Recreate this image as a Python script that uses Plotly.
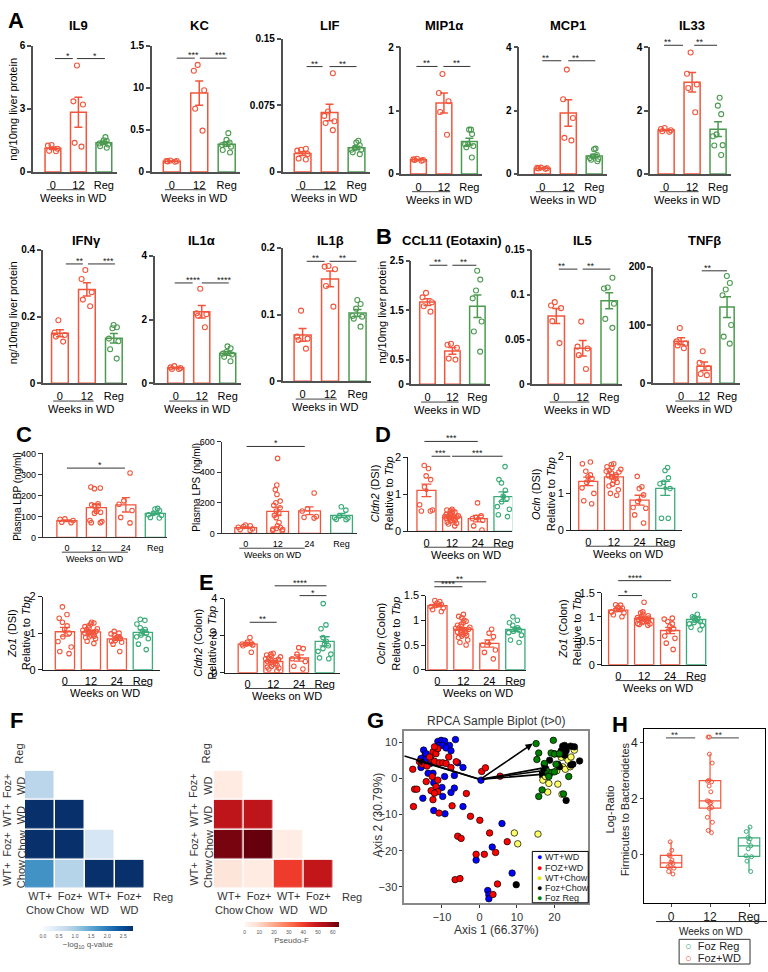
import numpy as np
import plotly.graph_objects as go
from plotly.colors import sequential

W, H = 768, 972
FONT = "Liberation Sans"
RED = "#F2553B"
GREEN_A = "#4C9A50"
GREEN = "#3AAB78"

## Data

wk3 = ["0", "12", "Reg"]
wk4 = ["0", "12", "24", "Reg"]

# A / B : ng per 10 mg liver protein, groups 0 / 12 / Reg
il9 = [[1.28, 1.25, 1.1, 1.0, 0.98], [5.05, 3.35, 3.2, 1.38, 1.2],
       [1.65, 1.5, 1.48, 1.4, 1.35, 1.3, 1.22, 1.15]]
kc = [[0.135, 0.13, 0.13, 0.125, 0.12], [1.27, 1.2, 0.97, 0.75, 0.49],
      [0.46, 0.38, 0.35, 0.33, 0.32, 0.30, 0.26, 0.23]]
lif = [[0.026, 0.025, 0.024, 0.02, 0.015, 0.014], [0.111, 0.068, 0.063, 0.057, 0.055, 0.047],
       [0.035, 0.033, 0.03, 0.027, 0.025, 0.025, 0.022, 0.02]]
mip1a = [[0.24, 0.23, 0.22, 0.22, 0.21], [1.58, 1.28, 1.15, 0.98, 0.62],
         [0.70, 0.70, 0.63, 0.47, 0.47, 0.44, 0.42, 0.26]]
mcp1 = [[0.2, 0.19, 0.18, 0.17, 0.16], [3.3, 2.36, 1.77, 1.14, 1.06],
        [0.8, 0.78, 0.6, 0.55, 0.5, 0.47, 0.45, 0.4]]
il33 = [[1.45, 1.42, 1.38, 1.35, 1.33], [3.84, 3.17, 2.83, 2.72, 1.95],
        [2.41, 2.16, 1.89, 1.25, 1.19, 0.91, 0.9, 0.6]]
ifng = [[0.189, 0.152, 0.145, 0.14, 0.125], [0.34, 0.313, 0.273, 0.251, 0.231],
        [0.175, 0.168, 0.165, 0.134, 0.126, 0.102, 0.074]]
il1a = [[0.54, 0.5, 0.48, 0.45, 0.45], [2.97, 2.2, 2.17, 2.12, 1.76],
        [1.16, 1.1, 0.98, 0.93, 0.9, 0.83, 0.69]]
il1b = [[0.106, 0.067, 0.064, 0.062, 0.049], [0.173, 0.172, 0.168, 0.143, 0.112],
        [0.122, 0.116, 0.109, 0.098, 0.097, 0.094, 0.082]]
ccl11 = [[1.85, 1.76, 1.66, 1.58, 1.47], [0.82, 0.8, 0.74, 0.52, 0.5],
         [2.30, 2.12, 1.90, 1.74, 1.27, 1.07, 0.66]]
il5 = [[0.0917, 0.088, 0.085, 0.0705, 0.046], [0.07, 0.042, 0.04, 0.0325, 0.017],
       [0.119, 0.108, 0.107, 0.09, 0.073, 0.063]]
tnfb = [[95, 72, 68, 65, 60], [55, 35, 26, 16, 14], [184, 172, 161, 151, 100, 80, 68]]

# C : plasma LBP / LPS (ng/ml), groups 0 / 12 / 24 / Reg
lbp = [[88, 86, 80, 72, 70],
       [240, 235, 232, 160, 155, 150, 150, 125, 120, 115, 80, 75, 70, 70],
       [307, 174, 158, 128, 95, 69],
       [138, 135, 128, 115, 108, 105, 92, 95]]
lps = [[55, 50, 45, 40, 30, 25, 20],
       [490, 316, 286, 254, 211, 200, 183, 168, 146, 135, 118, 103, 71, 50, 39, 32, 28, 17, 20, 25],
       [264, 161, 146, 110, 105, 100],
       [174, 152, 114, 103, 100, 92, 90]]

# D : distal small intestine, relative to Tbp
cldn2_dsi = [[1.78, 1.7, 1.5, 1.4, 1.2, 0.72, 0.58, 0.55, 0.55],
             [0.6, 0.58, 0.56, 0.55, 0.52, 0.5, 0.48, 0.46, 0.44, 0.42, 0.41, 0.4, 0.39, 0.38,
              0.36, 0.35, 0.34, 0.32, 0.3, 0.3, 0.28, 0.25, 0.22, 0.2, 0.15],
             [0.77, 0.42, 0.38, 0.35, 0.3, 0.15, 0.04],
             [1.75, 1.40, 1.31, 1.11, 0.95, 0.89, 0.80, 0.67, 0.60, 0.45, 0.40]]
ocln_dsi = [[1.85, 1.8, 1.6, 1.5, 1.45, 1.4, 1.3, 1.15, 1.0, 0.8, 0.72],
            [1.8, 1.78, 1.72, 1.7, 1.65, 1.62, 1.6, 1.58, 1.55, 1.5, 1.48, 1.45, 1.4, 1.35,
             1.3, 1.25, 1.2, 1.1, 1.0, 0.95],
            [1.46, 1.18, 1.13, 0.96, 0.78, 0.62, 0.6, 0.42, 0.2],
            [1.70, 1.62, 1.42, 1.30, 1.26, 1.13, 0.33, 0.33]]
zo1_dsi = [[1.72, 1.51, 1.41, 1.3, 1.2, 1.1, 1.0, 0.9, 0.77, 0.62, 0.5, 0.44],
           [1.3, 1.28, 1.25, 1.2, 1.18, 1.15, 1.12, 1.1, 1.08, 1.05, 1.05, 1.03, 1.0, 1.0,
            0.98, 0.95, 0.92, 0.9, 0.88, 0.85, 0.78, 0.72],
           [1.05, 1.0, 0.98, 0.95, 0.9, 0.88, 0.85, 0.8, 0.78, 0.75, 0.7, 0.5],
           [1.38, 1.35, 1.25, 1.15, 1.1, 1.05, 1.0, 0.95, 0.9, 0.85, 0.7, 0.55]]

# E : colon, relative to Tbp
cldn2_col = [[1.9, 1.65, 1.6, 1.55, 1.55, 1.5, 1.45, 1.1],
             [1.05, 1.0, 0.95, 0.9, 0.85, 0.8, 0.75, 0.72, 0.7, 0.65, 0.6, 0.55, 0.5, 0.45,
              0.4, 0.35, 0.3, 0.25, 0.2, 0.1],
             [1.35, 1.3, 1.0, 0.75, 0.6, 0.35, 0.2],
             [3.73, 2.58, 2.37, 1.9, 1.7, 1.55, 1.45, 1.3, 1.15, 1.0, 0.8, 0.75]]
ocln_col = [[1.4, 1.38, 1.35, 1.32, 1.3, 1.28, 1.25, 1.22, 1.18],
            [1.12, 1.08, 1.05, 1.0, 0.98, 0.95, 0.92, 0.9, 0.88, 0.86, 0.85, 0.84, 0.82, 0.8,
             0.78, 0.76, 0.74, 0.72, 0.7, 0.68, 0.65, 0.6, 0.55, 0.5, 0.75],
            [0.82, 0.74, 0.67, 0.55, 0.5, 0.4, 0.35, 0.22],
            [1.07, 1.0, 0.95, 0.9, 0.85, 0.82, 0.8, 0.78, 0.75, 0.7, 0.6, 0.55]]
zo1_col = [[1.25, 1.24, 1.2, 1.18, 1.15, 1.1, 1.08, 1.04, 1.0],
           [1.3, 1.1, 1.08, 1.05, 1.02, 1.0, 0.98, 0.97, 0.96, 0.95, 0.94, 0.93, 0.92, 0.9,
            0.9, 0.88, 0.86, 0.85, 0.84, 0.82],
           [0.97, 0.95, 0.9, 0.85, 0.8, 0.75, 0.7, 0.6, 0.55, 0.45, 0.32],
           [1.44, 1.05, 1.0, 0.98, 0.95, 0.92, 0.9, 0.88, 0.85, 0.82, 0.78, 0.73]]

# F : pairwise heatmaps (rows bottom -> top)
heat_groups = ["WT+<br>Chow", "Foz+<br>Chow", "WT+<br>WD", "Foz+<br>WD", "Reg"]
heat_q = [[1.75, 0.85, 2.8, 2.8, None],
          [2.8, 2.8, 0.45, None, None],
          [2.8, 2.8, None, None, None],
          [0.8, None, None, None, None],
          [None, None, None, None, None]]
heat_f = [[6, 4, 40, 50, None],
          [62, 64, 3, None, None],
          [51, 51, None, None, None],
          [4, None, None, None, None],
          [None, None, None, None, None]]

# G : RPCA biplot
wtwd_x = [-14.9, -14.5, -15.6, -14.2, -13.1, -14.7, -15.6, -11.1, -10.2, -9.3, -10.8, -9.8, -8.0, -6.4,
          -8.9, -7.6, -4.4, -5.8, -6.7, -12.4, -12.2, -10.0, -15.1, -9.8, -7.6, -6.7, -4.4, -12.2,
          -9.2, 6.0, 3.4, -0.9, 2.2, 2.5, 2.5, 8.7, -14.2, -13.7, -9.3, 0.4]
wtwd_y = [7.8, 6.4, 5.5, 5.5, 4.1, 3.7, 3.0, 10.2, 10.5, 10.3, 9.1, 9.1, 9.1, 10.7, 8.4, 7.6, 3.0, 4.3,
          0.8, 1.4, -1.2, -2.5, -5.5, -5.0, -3.9, -2.7, -7.8, -8.9, -9.8, -12.5, -19.0, -22.6, -31.0,
          -32.2, -33.3, -26.2, 6.8, 1.4, 0.5, -0.5]
fozwd_x = [-17.8, -17.3, -16.7, -17.6, -16.0, -15.3, -14.0, -12.9, -12.4, -11.6, -12.0, -10.7, -9.8,
           -8.9, -8.2, -7.6, -6.2, -11.1, -12.0, -13.3, -12.6, -14.2, -11.1, -11.6, -12.9, -11.1,
           -12.0, -12.4, -7.3, -3.5, -2.4, 0.1, 2.7, -6.5, -5.2, -0.9, 1.3, 7.4, 4.3, 4.8, 3.6, 0.6,
           1.6, 5.5, -10.8, -5.8, -4.9]
fozwd_y = [2.5, -3.0, -3.0, -7.8, 4.6, 3.9, 3.4, 5.3, 7.3, 6.8, 4.7, 4.3, 4.3, 4.1, 5.9, 3.0, 4.6, 8.2,
           8.7, 5.9, 0.5, -0.9, -0.5, -2.3, -3.4, -3.7, -4.1, -5.9, -7.6, -4.2, -10.5, -11.6, -15.1,
           -28.0, -27.7, -21.0, -21.0, -17.5, -20.5, -29.2, -32.1, 1.9, 2.9, 0.6, -9.6, -16.0, -16.6]
wtchow_x = [9.3, 10.2, 15.6, 16.9, 18.2, 18.5, 22.0, 22.7, 21.8, 23.6, 24.4, 25.3, 22.2, 22.9, 24.2,
            20.6, 17.6, 21.3, 20.9]
wtchow_y = [-15.1, -18.1, -15.4, -0.5, -3.8, -1.4, -4.4, 5.9, 5.8, 5.0, 5.9, 7.8, 3.2, 2.5, 3.2, 2.1,
            0.5, 6.7, -1.6]
fozchow_x = [9.8, 18.7, 20.0, 21.8, 22.2, 22.7, 22.9, 23.1, 22.7, 20.9, 21.3, 24.4, 24.9, 26.7, 23.1,
             24.3, 25.3]
fozchow_y = [-29.4, 5.0, 6.8, 7.6, 8.9, 9.1, 8.2, 7.6, 6.4, 3.9, 3.2, 3.7, 3.9, 4.8, -6.1, 8.9, 8.7]
fozreg_x = [15.1, 15.8, 15.3, 17.3, 15.8, 18.0, 19.7, 19.1, 20.0, 21.3, 17.3, 19.1, 20.0, 20.4, 17.8,
            16.7, 22.4, 18.5, 23.8]
fozreg_y = [9.6, 7.0, 5.2, 3.8, -5.0, 1.4, 10.5, 7.0, 6.7, 6.8, 4.1, 1.6, 1.8, 3.9, 2.3, -3.2, -4.3,
            0.5, 0.5]
arrow_x = [-20.0, -16.9, 14.2, 18.7, 18.2, 17.8]
arrow_y = [6.2, 5.0, 9.6, 3.2, 2.3, 1.2]
arrow_origin = (0.2, -0.3)

# H : log-ratio Firmicutes / Bacteroidetes
h_0 = [0.45, 0.15, -0.02, -0.05, -0.2, -0.28, -0.32, -0.38, -0.44, -0.49, -0.61, -0.7]
h_12 = [4.2, 4.2, 3.59, 3.27, 2.65, 2.62, 2.6, 2.45, 2.24, 1.92, 1.9, 1.85, 1.82, 1.68, 1.65, 1.33,
        1.15, 0.86, 0.78]
h_reg = [0.98, 0.82, 0.6, 0.56, 0.45, 0.31, 0.2, -0.05, -0.08, -0.24, -0.61]

## Helpers

fig = go.Figure()
annots, shapes = [], []
n_ax = [0]


def add_axes(L, R, T, B, xr, yr, xaxis=None, yaxis=None):
    n_ax[0] += 1
    s = "" if n_ax[0] == 1 else str(n_ax[0])
    xa = dict(domain=[L / W, R / W], range=xr, anchor="y" + s, showgrid=False, zeroline=False)
    ya = dict(domain=[1 - B / H, 1 - T / H], range=yr, anchor="x" + s, showgrid=False, zeroline=False)
    xa.update(xaxis or {})
    ya.update(yaxis or {})
    fig.update_layout(**{"xaxis" + s: xa, "yaxis" + s: ya})
    return "x" + s, "y" + s


def mapper(L, R, T, B, xr, yr):
    def f(xv, yv):
        xp = L + (xv - xr[0]) / (xr[1] - xr[0]) * (R - L)
        yp = B - (yv - yr[0]) / (yr[1] - yr[0]) * (B - T)
        return xp / W, 1 - yp / H
    return f


def text(x, y, s, size=11, angle=0, color="black", xa="center", ya="middle"):
    annots.append(dict(x=x / W, y=1 - y / H, xref="paper", yref="paper", text=s, showarrow=False,
                       textangle=angle, xanchor=xa, yanchor=ya,
                       font=dict(size=size, color=color, family=FONT)))


def pline(x0, y0, x1, y1, color="#333", width=1):
    shapes.append(dict(type="line", xref="paper", yref="paper", x0=x0, y0=y0, x1=x1, y1=y1,
                       line=dict(color=color, width=width)))


STYLES = {
    "A": dict(axc="#505050", alw=1.5, xtl=2, xfs=11, yfs=10, yw="bold", bw=0.62, ms=5, bl=1.5,
              cap=4, jit=0.75, dot=False, ul=18, wt=26, wfs=11),
    "C": dict(axc="#333333", alw=1.2, xtl=2, xfs=9, yfs=9, yw="normal", bw=0.68, ms=4.5, bl=1.3,
              cap=4, jit=0.8, dot=False, ul=15, wt=22, wfs=9),
    "D": dict(axc="#222222", alw=1.3, xtl=1, xfs=11, yfs=11, yw="normal", bw=0.74, ms=4.5, bl=1.3,
              cap=5, jit=0.85, dot=True, ul=16, wt=24, wfs=11),
}


def bar_panel(groups, cats, colors, L, c0, s, T, B, ymax, ticks, labels, sigs=(), R=None,
              style="A", title=None, title_y=None, span=(-0.25, 1.25), wk_x=0.8,
              wk="Weeks in WD", ylab=None):
    st = STYLES[style]
    R = c0 + (len(cats) - 1) * s + 13 if R is None else R
    xr = [(L - c0) / s, (R - c0) / s]
    yr = [0, ymax]
    xa, ya = add_axes(
        L, R, T, B, xr, yr,
        dict(showline=True, linecolor=st["axc"], linewidth=st["alw"], tickvals=list(range(len(cats))),
             ticktext=cats, ticks="outside", ticklen=st["xtl"], tickcolor="rgba(0,0,0,0)",
             tickfont=dict(family=FONT, size=st["xfs"], color="black")),
        dict(showline=True, linecolor=st["axc"], linewidth=st["alw"], tickvals=ticks, ticktext=labels,
             ticks="outside", ticklen=4, tickwidth=st["alw"], tickcolor=st["axc"],
             tickfont=dict(family=FONT, size=st["yfs"], color="black", weight=st["yw"])))
    for i, (pts, col) in enumerate(zip(groups, colors)):
        arr = np.array(pts, dtype=float)
        m = arr.mean()
        se = arr.std(ddof=1) / np.sqrt(len(arr))
        fig.add_trace(go.Bar(x=[i], y=[m], width=st["bw"], xaxis=xa, yaxis=ya, hoverinfo="skip",
                             marker=dict(color="white", line=dict(color=col, width=st["bl"])),
                             error_y=dict(type="data", array=[se], color=col, thickness=st["bl"],
                                          width=st["cap"])))
        fig.add_trace(go.Box(x=[i] * len(arr), y=arr, width=st["bw"], boxpoints="all", jitter=st["jit"],
                             pointpos=0, fillcolor="rgba(0,0,0,0)", line=dict(width=0, color=col),
                             whiskerwidth=0, hoverinfo="skip", xaxis=xa, yaxis=ya,
                             marker=dict(symbol="circle-open", size=st["ms"], color=col,
                                         line=dict(width=1.1))))
        if st["dot"]:
            fig.add_trace(go.Scatter(x=[i], y=[m], mode="markers", xaxis=xa, yaxis=ya, hoverinfo="skip",
                                     marker=dict(size=4, color=col)))
    f = mapper(L, R, T, B, xr, yr)
    for x0, x1, yv, t in sigs:
        a, b = f(x0, yv)
        c, _ = f(x1, yv)
        pline(a, b, c, b, color="#333", width=1)
        annots.append(dict(x=(a + c) / 2, y=b, xref="paper", yref="paper", text=t, showarrow=False,
                           yanchor="bottom", yshift=-4, font=dict(size=9, family=FONT, color="#222")))
    a, _ = f(span[0], 0)
    c, _ = f(span[1], 0)
    yy = 1 - (B + st["ul"]) / H
    pline(a, yy, c, yy, color="#444", width=1)
    wx, _ = f(wk_x, 0)
    text(wx * W, B + st["wt"], wk, size=st["wfs"])
    if title:
        tx, _ = f(1, 0)
        text(tx * W, title_y, "<b>%s</b>" % title, size=13)
    if ylab:
        text(ylab[1], ylab[2], ylab[0], size=ylab[3] if len(ylab) > 3 else 11, angle=-90)
    return f


## Panel A / B

c3a = [RED, RED, GREEN_A]
YL = "ng/10mg liver protein"
bar_panel(il9, wk3, c3a, 33, 53, 25.5, 40, 168, 6, [0, 3, 6], ["0", "3", "6"],
          sigs=[(0.08, 0.78, 5.38, "*"), (0.94, 2.04, 5.38, "*")], title="IL9", title_y=20,
          ylab=(YL, 13, 104))
bar_panel(kc, wk3, c3a, 152, 172, 27.5, 40, 168, 1.5, [0, 0.5, 1.0, 1.5], ["0", "0.5", "10", "1.5"],
          sigs=[(0.18, 0.84, 1.35, "***"), (1.02, 2.0, 1.35, "***")], title="KC", title_y=20)
bar_panel(lif, wk3, c3a, 283, 303, 27, 33, 168, 0.15, [0, 0.075, 0.15], ["0", "0.075", "0.15"],
          sigs=[(0.15, 0.74, 0.1185, "**"), (1.0, 2.0, 0.1185, "**")], title="LIF", title_y=20)
bar_panel(mip1a, wk3, c3a, 402, 419, 25.5, 42, 170, 2, [0, 1, 2], ["0", "1", "2"],
          sigs=[(-0.08, 0.75, 1.70, "**"), (0.98, 2.04, 1.70, "**")], title="MIP1α", title_y=20)
bar_panel(mcp1, wk3, c3a, 520, 543, 26, 42, 170, 4, [0, 2, 4], ["0", "2", "4"],
          sigs=[(0, 0.73, 3.58, "**"), (1.0, 2.04, 3.58, "**")], title="MCP1", title_y=20)
bar_panel(il33, wk3, c3a, 651, 667, 26, 42, 170, 4, [0, 2, 4], ["0", "2", "4"],
          sigs=[(-0.08, 0.65, 4.07, "**"), (1.08, 1.96, 4.07, "**")], title="IL33", title_y=20)

bar_panel(ifng, wk3, c3a, 43, 60, 27, 247, 382, 0.4, [0, 0.2, 0.4], ["0", "0.2", "0.4"],
          sigs=[(0.22, 0.85, 0.358, "**"), (1.04, 2.04, 0.358, "***")], title="IFNγ", title_y=237,
          ylab=(YL, 13, 310))
bar_panel(il1a, wk3, c3a, 155, 176, 26, 253, 382, 4, [0, 2, 4], ["0", "2", "4"],
          sigs=[(-0.04, 0.65, 3.15, "****"), (1.0, 2.04, 3.15, "****")], title="IL1α", title_y=237)
bar_panel(il1b, wk3, c3a, 283, 303, 27.5, 245, 380, 0.2, [0, 0.1, 0.2], ["0", "0.1", "0.2"],
          sigs=[(0.15, 0.8, 0.18, "**"), (0.98, 1.96, 0.18, "**")], title="IL1β", title_y=237)
bar_panel(ccl11, wk3, c3a, 412, 428, 25, 258, 383, 2.5, [0, 0.5, 1.5, 2.5], ["0", "0.5", "1.5", "2.5"],
          sigs=[(0.08, 0.8, 2.41, "**"), (1.0, 1.96, 2.41, "**")], title="CCL11 (Eotaxin)",
          title_y=237, ylab=(YL, 383, 310))
bar_panel(il5, wk3, c3a, 533, 557, 26.5, 247, 383, 0.15, [0, 0.05, 0.1, 0.15],
          ["0", "0.05", "0.1", "0.15"],
          sigs=[(0.1, 0.8, 0.1286, "**"), (1.0, 2.04, 0.1286, "**")], title="IL5", title_y=237)
bar_panel(tnfb, wk3, c3a, 654, 682, 23, 264, 382, 200, [0, 100, 200], ["0", "100", "200"],
          sigs=[(0.9, 2.0, 193, "**")], title="TNFβ", title_y=237)

## Panel C / D / E

c4 = [RED, RED, RED, GREEN]
bar_panel(lbp, wk4, c4, 43, 67, 29.5, 453, 538, 400, [0, 100, 200, 300, 400],
          ["0", "100", "200", "300", "400"], R=167, style="C", sigs=[(0, 1.97, 330, "*")],
          span=(-0.17, 2.07), wk_x=0.95, wk="Weeks on WD", ylab=("Plasma LBP (ng/ml)", 18, 496, 10))
bar_panel(lps, wk4, c4, 222, 246, 32, 441, 534, 600, [0, 200, 400, 600], ["0", "200", "400", "600"],
          R=357, style="C", sigs=[(0.03, 1.85, 568, "*")], span=(-0.2, 1.85), wk_x=0.85,
          wk="Weeks on WD", ylab=("Plasma LPS (ng/ml)", 197, 487, 10))

RT = "Relative to <i>Tbp</i>"
dkw = dict(style="D", span=(-0.1, 3.2), wk_x=1.55, wk="Weeks on WD")
bar_panel(cldn2_dsi, wk4, c4, 409, 427, 25.7, 457, 532, 2, [0, 1, 2], ["0", "1", "2"], R=513,
          sigs=[(0.2, 0.93, 2.03, "***"), (1.0, 2.97, 2.03, "***"), (-0.08, 2.0, 2.43, "***")],
          ylab=("<i>Cldn2</i> (DSI)<br>" + RT, 382, 494), **dkw)
bar_panel(ocln_dsi, wk4, c4, 572, 589, 25.7, 456, 531, 2, [0, 1, 2], ["0", "1", "2"], R=683,
          ylab=("<i>Ocln</i> (DSI)<br>" + RT, 544, 494), **dkw)
bar_panel(zo1_dsi, wk4, c4, 43, 65, 26, 598, 672, 2, [0, 1, 2], ["0", "1", "2"], R=160,
          ylab=("<i>Zo1</i> (DSI)<br>" + RT, 19, 635), **dkw)
bar_panel(cldn2_col, wk4, c4, 225, 248, 25.7, 600, 675, 4, [0, 2, 4], ["0", "2", "4"], R=340,
          sigs=[(0.08, 1.13, 2.72, "**"), (1.05, 3.07, 4.69, "****"), (2.02, 3.07, 4.16, "*")],
          ylab=("<i>Cldn2</i> (Colon)<br>" + RT, 205, 645), **dkw)
bar_panel(ocln_col, wk4, c4, 427, 438, 26, 597, 672, 1.5, [0, 0.5, 1, 1.5], ["0", "0.5", "1", "1.5"],
          R=527, sigs=[(-0.12, 0.96, 1.68, "****"), (-0.12, 1.88, 1.78, "**")],
          ylab=("<i>Ocln</i> (Colon)<br>" + RT, 389, 635), **dkw)
bar_panel(zo1_col, wk4, c4, 603, 619, 26, 594, 667, 1.5, [0, 0.5, 1, 1.5], ["0", "0.5", "1", "1.5"],
          R=708, sigs=[(0, 0.92, 1.44, "*"), (0, 2.04, 1.75, "****")],
          ylab=("<i>Zo1</i> (Colon)<br>" + RT, 571, 630), **dkw)

## Panel F (heatmaps)

hax = dict(showticklabels=False, ticks="", showline=False)
for z, scale, zmax, L, ylx, (cbx, cbl, cby), cbt, tv, tt in [
    (heat_q, sequential.Blues, 2.8, 25, 14, (88, 90, 932), "−log<sub>10</sub> q-value",
     [0, 0.5, 1, 1.5, 2, 2.5], ["0.0", "0.5", "1.0", "1.5", "2.0", "2.5"]),
    (heat_f, sequential.Reds, 64, 214, 201, (292, 94, 927), "Pseudo-F",
     [0, 10, 20, 30, 40, 50, 60], ["0", "10", "20", "30", "40", "50", "60"]),
]:
    R = L + 150
    xa, ya = add_axes(L, R, 744, 894, [-0.5, 4.5], [-0.5, 4.5], dict(hax), dict(hax))
    fig.add_trace(go.Heatmap(z=z, x=list(range(5)), y=list(range(5)), colorscale=scale, zmin=0,
                             zmax=zmax, xgap=1.5, ygap=1.5, xaxis=xa, yaxis=ya, hoverinfo="skip",
                             colorbar=dict(orientation="h", x=cbx / W, xanchor="center",
                                           y=1 - cby / H, yanchor="top", len=cbl, lenmode="pixels",
                                           thickness=5, outlinewidth=0, xpad=0, ypad=0, ticks="",
                                           tickvals=tv, ticktext=tt,
                                           tickfont=dict(size=5, color="#555", family=FONT),
                                           title=dict(text=cbt, side="bottom",
                                                      font=dict(size=8, color="#555", family=FONT)))))
    fm = mapper(L, R, 744, 894, [-0.5, 4.5], [-0.5, 4.5])
    for i, g in enumerate(heat_groups):
        cx, _ = fm(i, 0)
        _, cy = fm(0, i)
        if g == "Reg":
            text(cx * W + 3, 902, g, size=11, color="#333")
            text(ylx + 5, (1 - cy) * H - 2, g, size=11, color="#333", angle=-90)
        else:
            text(cx * W, 908, g, size=11, color="#333")
            text(ylx, (1 - cy) * H, g, size=11, color="#333", angle=-90)

## Panel G (biplot)

gx, gy = add_axes(
    405, 589, 734, 908, [-20, 29], [-34.4, 13.1],
    dict(showline=True, mirror=True, linecolor="#888", linewidth=2, ticks="outside", ticklen=3,
         tickcolor="#333", tickvals=[-10, 0, 10, 20], tickfont=dict(family=FONT, size=11, color="#333")),
    dict(showline=True, mirror=True, linecolor="#888", linewidth=2, ticks="outside", ticklen=3,
         tickcolor="#333", tickvals=[-30, -20, -10, 0, 10],
         tickfont=dict(family=FONT, size=11, color="#333")))
g_series = [("WT+WD", wtwd_x, wtwd_y, "#0000FF"), ("FOZ+WD", fozwd_x, fozwd_y, "#FF0000"),
            ("WT+Chow", wtchow_x, wtchow_y, "#FFFF66"), ("Foz+Chow", fozchow_x, fozchow_y, "#000000"),
            ("Foz Reg", fozreg_x, fozreg_y, "#008000")]
for name, xs, ys, col in g_series:
    fig.add_trace(go.Scatter(x=xs, y=ys, mode="markers", name=name, xaxis=gx, yaxis=gy,
                             hoverinfo="skip", cliponaxis=True,
                             marker=dict(size=6.5, color=col, line=dict(color="black", width=0.7))))
for tx, ty in zip(arrow_x, arrow_y):
    annots.append(dict(x=tx, y=ty, xref=gx, yref=gy, ax=arrow_origin[0], ay=arrow_origin[1],
                       axref=gx, ayref=gy, text="", showarrow=True,
                       arrowhead=0 if tx <= -20 else 2, arrowsize=0.9, arrowwidth=1.6,
                       arrowcolor="black"))
text(497, 724, "RPCA Sample Biplot (t&gt;0)", size=12, color="#333")
text(497, 936, "Axis 1 (66.37%)", size=12, color="#333")
text(378, 819, "Axis 2 (30.79%)", size=12, color="#333", angle=-90)
shapes.append(dict(type="rect", xref="paper", yref="paper", x0=533 / W, x1=589 / W,
                   y0=1 - 908 / H, y1=1 - 856 / H, line=dict(color="black", width=1),
                   fillcolor="white"))
for k, (name, _, _, col) in enumerate(g_series):
    dotc = "#E6E600" if col == "#FFFF66" else col
    text(536, 862 + k * 10.4, '<span style="color:%s">●</span> %s' % (dotc, name), size=9,
         color="#222", xa="left")

## Panel H (box plot)

hxa, hya = add_axes(
    645, 766, 732, 908, [-0.69, 2.41], [-1.73, 4.49],
    dict(showline=True, mirror=True, linecolor="black", linewidth=1, ticks="outside", ticklen=3,
         tickvals=[0, 1, 2], ticktext=wk3, tickfont=dict(family=FONT, size=12, color="#222")),
    dict(showline=True, mirror=True, linecolor="black", linewidth=1, ticks="outside", ticklen=3,
         tickvals=[0, 2, 4], tickfont=dict(family=FONT, size=12, color="#222")))
for i, (pts, col) in enumerate([(h_0, RED), (h_12, RED), (h_reg, GREEN)]):
    fig.add_trace(go.Box(x=[i] * len(pts), y=pts, width=0.55, boxpoints="all", jitter=0.35,
                         pointpos=0, whiskerwidth=0, fillcolor="rgba(255,255,255,0)",
                         line=dict(color=col, width=1.2), xaxis=hxa, yaxis=hya, hoverinfo="skip",
                         marker=dict(symbol="circle-open", size=4, color=col, line=dict(width=1))))
fh = mapper(645, 766, 732, 908, [-0.69, 2.41], [-1.73, 4.49])
for x0, x1 in [(-0.13, 0.62), (1.03, 1.74)]:
    a, b = fh(x0, 4.17)
    c, _ = fh(x1, 4.17)
    pline(a, b, c, b, color="#444", width=1)
    annots.append(dict(x=(a + c) / 2, y=b, xref="paper", yref="paper", text="**", showarrow=False,
                       yanchor="bottom", yshift=-4, font=dict(size=9, family=FONT, color="#333")))
pline(657 / W, 1 - 927 / H, 768 / W, 1 - 927 / H, color="#222", width=1)
text(712, 937, "Weeks on WD", size=10, color="#222")
text(618, 813, "Log-Ratio<br>Firmicutes to Bacteroidetes", size=11, color="#222", angle=-90)
shapes.append(dict(type="rect", xref="paper", yref="paper", x0=680 / W, x1=751 / W,
                   y0=1 - 970 / H, y1=1 - 945 / H, line=dict(color="#333", width=1)))
text(684, 952, '<span style="color:%s">○</span>  Foz Reg' % GREEN, size=11, color="#222", xa="left")
text(684, 964, '<span style="color:%s">○</span>  Foz+WD' % RED, size=11, color="#222", xa="left")

## Panel letters

for letter, x, y in [("A", 16, 15), ("B", 384, 233), ("C", 24, 434), ("D", 383, 434),
                     ("E", 207, 584), ("F", 17, 723), ("G", 376, 723), ("H", 621, 727)]:
    text(x, y, "<b>%s</b>" % letter, size=22)

fig.update_layout(width=W, height=H, margin=dict(l=0, r=0, t=0, b=0), showlegend=False,
                  barmode="overlay", boxmode="overlay", plot_bgcolor="white", paper_bgcolor="white",
                  font=dict(family=FONT, color="black"), annotations=annots, shapes=shapes)
fig.write_html("out.html", config={"displayModeBar": False},
               post_script="document.body.style.margin='0';")
